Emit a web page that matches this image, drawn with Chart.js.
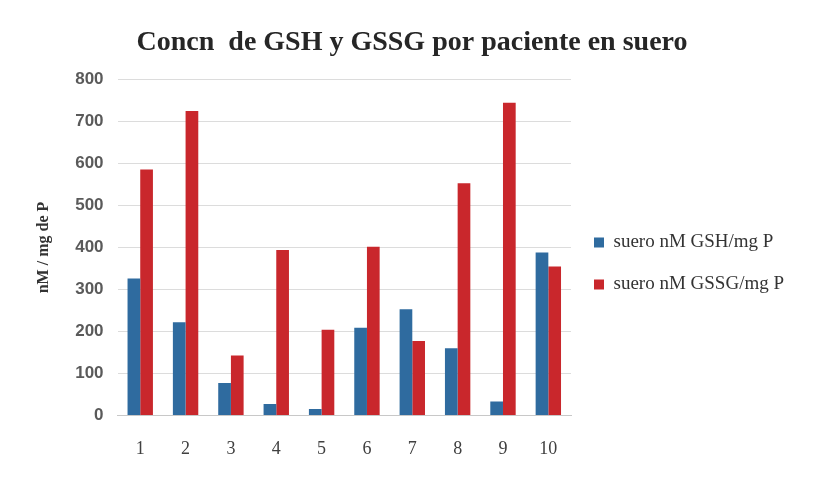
<!DOCTYPE html>
<html><head><meta charset="utf-8">
<script src="https://cdn.jsdelivr.net/npm/chart.js@4"></script>
<style>html,body{margin:0;padding:0;background:#fff}#w{width:819px;height:479px}</style>
</head><body><div id="w"><canvas id="c" width="819" height="479"></canvas></div>
<script>
const categories = ["1","2","3","4","5","6","7","8","9","10"];
const gshValues = [326, 222, 77, 27, 15, 209, 253, 160, 33, 388];
const gssgValues = [586, 725, 143, 394, 204, 402, 177, 553, 745, 355];
const seriesNames = ["suero nM GSH/mg P", "suero nM GSSG/mg P"];
const yTicks = [0,100,200,300,400,500,600,700,800];

new Chart(document.getElementById('c'), {
  type: 'bar',
  data: {
    labels: categories,
    datasets: [
      {label: seriesNames[0], data: gshValues, backgroundColor: '#2f6b9f', borderWidth: 0},
      {label: seriesNames[1], data: gssgValues, backgroundColor: '#c9272c', borderWidth: 0}
    ]
  },
  options: {
    responsive: false,
    animation: false,
    devicePixelRatio: 1,
    layout: {padding: {left: 30, right: 25, top: 16, bottom: 4}},
    datasets: {bar: {barPercentage: 1.0, categoryPercentage: 0.56}},
    plugins: {
      title: {display: true, text: 'Concn  de GSH y GSSG por paciente en suero',
        font: {family: 'Liberation Serif', size: 28, weight: 'bold'}, color: '#262626',
        padding: {top: 10, bottom: 20}},
      legend: {position: 'right', align: 'center', maxWidth: 300,
        title: {display: true, text: ' ', font: {size: 10}, padding: {top: 12, bottom: 12}},
        labels: {font: {family: 'Liberation Serif', size: 19}, color: '#333', boxWidth: 10, boxHeight: 10, padding: 23}},
      tooltip: {enabled: false}
    },
    scales: {
      x: {grid: {display: false}, border: {color: '#c8c8c8'},
        ticks: {font: {family: 'Liberation Serif', size: 18}, color: '#404040', padding: 15}},
      y: {min: 0, max: 800,
        afterBuildTicks: a => { a.ticks = yTicks.map(v => ({value: v})); },
        grid: {color: '#dcdcdc', drawTicks: false}, border: {display: false},
        ticks: {font: {family: 'Liberation Sans', size: 17, weight: 'bold'}, color: '#5a5a5a', padding: 14},
        title: {display: true, text: 'nM / mg de P', font: {family: 'Liberation Serif', size: 16, weight: 'bold'}, color: '#333', padding: {bottom: 8}}
      }
    }
  }
});
</script></body></html>
